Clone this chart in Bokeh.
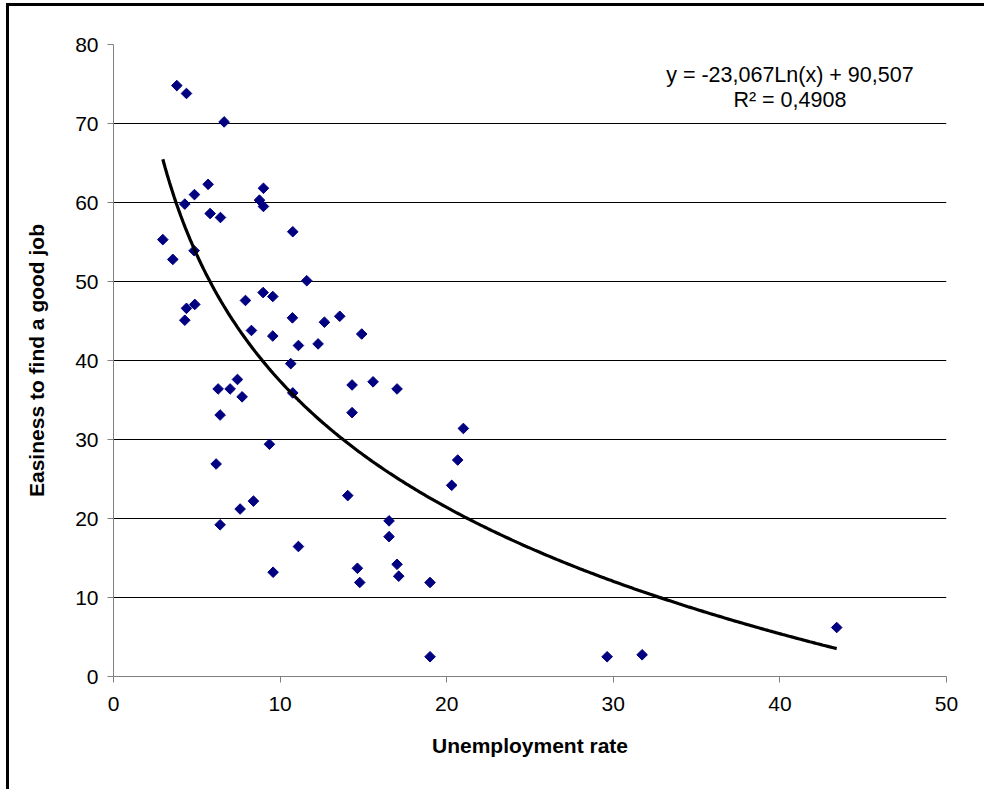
import numpy as np
from bokeh.plotting import figure
from bokeh.models import ColumnDataSource, Label, FixedTicker, InlineStyleSheet
from bokeh.embed import file_html
from bokeh.resources import INLINE

# Data
unemployment = [3.80, 4.38, 6.64, 2.96, 3.56, 4.28, 4.86, 5.68, 5.80, 6.42,
                8.76, 9.00, 9.00, 10.76, 4.84, 11.60, 4.38, 4.88, 4.28, 7.92,
                8.98, 9.56, 8.28, 9.56, 10.74, 11.10, 12.28, 12.66, 13.58, 14.90,
                10.64, 7.44, 6.28, 7.00, 7.72, 10.76, 6.40, 14.32, 14.32, 15.58,
                17.02, 21.00, 20.66, 20.30, 9.36, 6.16, 14.06, 7.60, 8.40, 6.40,
                16.54, 16.54, 14.64, 14.78, 17.02, 17.12, 19.00, 19.00, 11.10, 9.58,
                29.63, 31.73, 43.41]
easiness = [74.8, 73.8, 70.2, 55.3, 52.8, 59.8, 61.0, 62.3, 58.6, 58.1,
            60.3, 61.8, 59.5, 56.3, 53.9, 50.1, 46.6, 47.1, 45.1, 47.6,
            48.6, 48.1, 43.8, 43.1, 45.4, 41.9, 42.1, 44.85, 45.6, 43.35,
            39.6, 37.6, 36.4, 36.4, 35.4, 35.9, 33.1, 36.9, 33.4, 37.3,
            36.4, 31.4, 27.4, 24.2, 29.4, 26.9, 22.9, 21.2, 22.2, 19.2,
            19.7, 17.7, 13.7, 11.9, 14.2, 12.7, 11.9, 2.5, 16.45, 13.2,
            2.5, 2.75, 6.2]
x_ticks = [0, 10, 20, 30, 40, 50]
y_ticks = [0, 10, 20, 30, 40, 50, 60, 70, 80]
trend_a = -23.067
trend_b = 90.507
eq_text = "y = -23,067Ln(x) + 90,507"
r2_text = "R\u00b2 = 0,4908"

FONT = "Liberation Sans"

p = figure(width=984, height=789, output_backend="svg", toolbar_location=None,
           x_range=(0, 50), y_range=(0, 80),
           min_border_left=113, min_border_right=38, min_border_top=44, min_border_bottom=113)
p.background_fill_color = "white"
p.border_fill_color = "white"
p.outline_line_color = None

# Scatter
src = ColumnDataSource(dict(x=unemployment, y=easiness))
p.scatter("x", "y", source=src, marker="square", angle=np.pi / 4, size=7.5,
          fill_color="#000080", line_color="#000080")

# Logarithmic trendline
tx = np.linspace(min(unemployment), max(unemployment), 300)
ty = trend_a * np.log(tx) + trend_b
p.line(tx, ty, line_color="black", line_width=3.2)

# Axes
for ax in (p.xaxis[0], p.yaxis[0]):
    ax.axis_line_color = "#808080"
    ax.major_tick_line_color = "#808080"
    ax.major_tick_in = 0
    ax.major_tick_out = 6
    ax.minor_tick_line_color = None
    ax.major_label_text_font = FONT
    ax.major_label_text_font_size = "21px"
    ax.major_label_text_color = "black"
    ax.axis_label_text_font = FONT
    ax.axis_label_text_font_size = "21px"
    ax.axis_label_text_font_style = "bold"
    ax.axis_label_text_color = "black"

p.xaxis.ticker = FixedTicker(ticks=x_ticks)
p.yaxis.ticker = FixedTicker(ticks=y_ticks)
p.xaxis.axis_label = "Unemployment rate"
p.yaxis.axis_label = "Easiness to find a good job"
p.xaxis.major_label_standoff = 14
p.yaxis.major_label_standoff = 9
p.xaxis.axis_label_standoff = 20
p.yaxis.axis_label_standoff = 24

p.xgrid.grid_line_color = None
p.ygrid.grid_line_color = "black"
p.ygrid.grid_line_width = 1

# Equation labels
p.add_layout(Label(x=40.6, y=76.2, text=eq_text, text_align="center",
                   text_baseline="alphabetic", text_font=FONT, text_font_size="21.5px",
                   text_color="black"))
p.add_layout(Label(x=40.6, y=73.03, text=r2_text, text_align="center",
                   text_baseline="alphabetic", text_font=FONT, text_font_size="21.5px",
                   text_color="black"))

# Chart-area border (left and top edges visible; right/bottom lie outside the window)
p.stylesheets = [InlineStyleSheet(css="""
:host { position: relative; }
:host::after {
  content: "";
  position: absolute;
  left: 6px; top: 3px;
  width: calc(100% - 6px); height: calc(100% - 3px);
  border-left: 3px solid black; border-top: 3px solid black;
  box-sizing: border-box;
  pointer-events: none;
}
""")]

open("out.html", "w").write(file_html(p, INLINE))
